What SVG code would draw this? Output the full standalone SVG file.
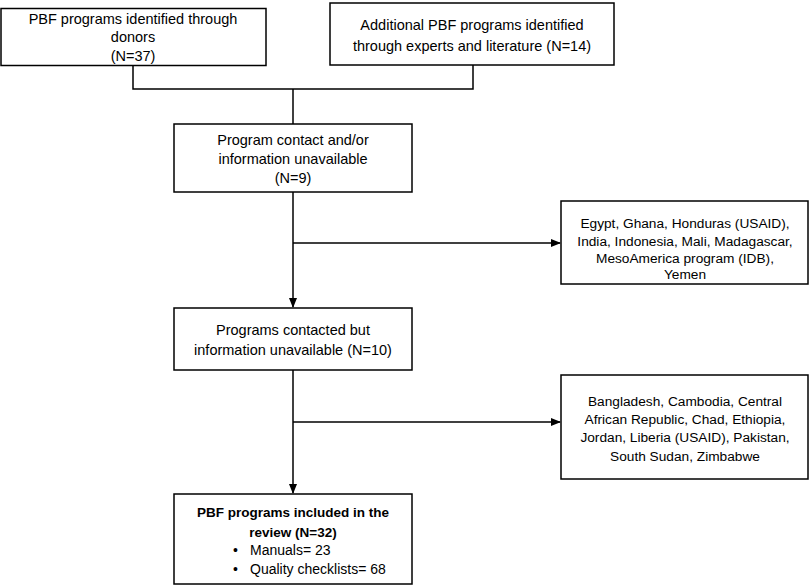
<svg xmlns="http://www.w3.org/2000/svg" width="810" height="585" viewBox="0 0 810 585">
<defs>
<style>
.box{fill:#fff;stroke:#000;stroke-width:1.5}
.t{font-family:"Liberation Sans",Arial,sans-serif;font-size:14.5px;fill:#000;text-anchor:middle}
.s{font-size:13.7px}
.b{font-weight:bold;font-size:13.5px}
.m{font-size:14px}
.l{text-anchor:start}
.c{fill:none;stroke:#000;stroke-width:1.5}
</style>
<marker id="ah" markerWidth="10" markerHeight="8" refX="9" refY="4" orient="auto" markerUnits="userSpaceOnUse">
<path d="M0,0 L10,4 L0,8 Z" fill="#000"/>
</marker>
</defs>
<rect width="810" height="585" fill="#fff"/>
<g id="connectors">
<path class="c" d="M133,65 V89 H473 V65"/>
<path class="c" d="M293,89 V124"/>
<path class="c" d="M293,192 V307" marker-end="url(#ah)"/>
<path class="c" d="M293,243 H560" marker-end="url(#ah)"/>
<path class="c" d="M293,370 V493" marker-end="url(#ah)"/>
<path class="c" d="M293,422 H560" marker-end="url(#ah)"/>
</g>
<g id="n1">
<rect class="box" x="1" y="8.5" width="265" height="57"/>
<text class="t" x="133" y="24">PBF programs identified through</text>
<text class="t" x="133" y="42">donors</text>
<text class="t" x="133" y="61">(N=37)</text>
</g>
<g id="n2">
<rect class="box" x="330" y="3" width="284" height="62"/>
<text class="t" x="472" y="30">Additional PBF programs identified</text>
<text class="t" x="472" y="51">through experts and literature (N=14)</text>
</g>
<g id="n3">
<rect class="box" x="174" y="124" width="238" height="68"/>
<text class="t" x="293" y="145">Program contact and/or</text>
<text class="t" x="293" y="164">information unavailable</text>
<text class="t" x="293" y="183">(N=9)</text>
</g>
<g id="n4">
<rect class="box" x="561" y="201" width="247" height="83"/>
<text class="t s" x="685" y="228">Egypt, Ghana, Honduras (USAID),</text>
<text class="t s" x="685" y="246">India, Indonesia, Mali, Madagascar,</text>
<text class="t s" x="685" y="263">MesoAmerica program (IDB),</text>
<text class="t s" x="685" y="279">Yemen</text>
</g>
<g id="n5">
<rect class="box" x="174" y="308" width="238" height="62"/>
<text class="t" x="293" y="335">Programs contacted but</text>
<text class="t" x="293" y="355">information unavailable (N=10)</text>
</g>
<g id="n6">
<rect class="box" x="561" y="375" width="247" height="104"/>
<text class="t s" x="685" y="406">Bangladesh, Cambodia, Central</text>
<text class="t s" x="685" y="424">African Republic, Chad, Ethiopia,</text>
<text class="t s" x="685" y="442">Jordan, Liberia (USAID), Pakistan,</text>
<text class="t s" x="685" y="461">South Sudan, Zimbabwe</text>
</g>
<g id="n7">
<rect class="box" x="174" y="494" width="238" height="90"/>
<text class="t b" x="293" y="517">PBF programs included in the</text>
<text class="t b" x="293" y="537">review (N=32)</text>
<text class="t m l" x="233" y="555">•</text>
<text class="t m l" x="250" y="555">Manuals= 23</text>
<text class="t m l" x="233" y="574">•</text>
<text class="t m l" x="250" y="574">Quality checklists= 68</text>
</g>
</svg>
